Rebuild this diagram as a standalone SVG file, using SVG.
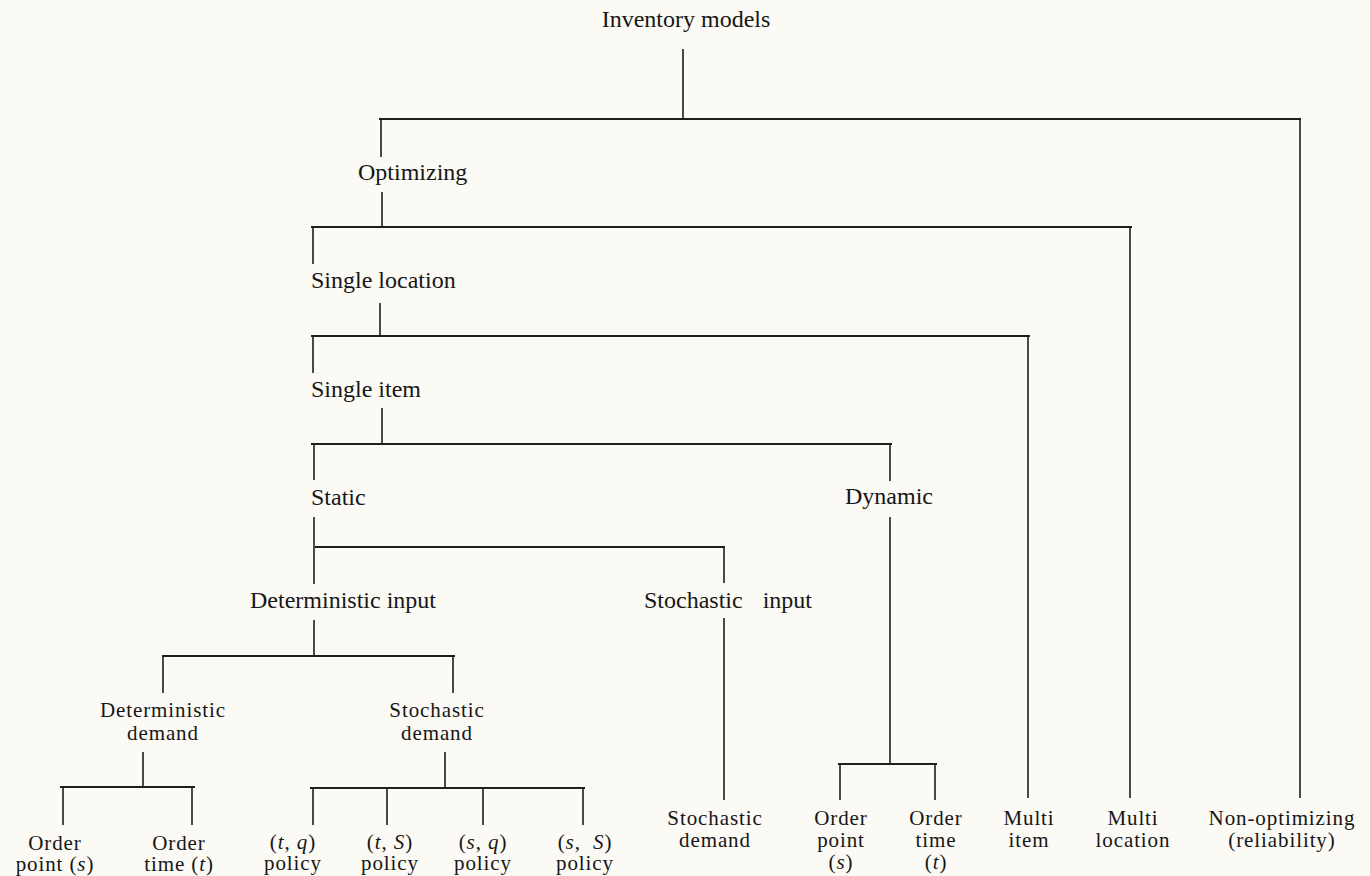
<svg xmlns="http://www.w3.org/2000/svg" width="1370" height="876" viewBox="0 0 1370 876">
  <style>
    text { font-family: "Liberation Serif", "Times New Roman", serif; font-size: 24px; fill: #161616; text-anchor: middle; }
    text.start { text-anchor: start; }
    .leaf text { font-size: 21px; letter-spacing: 0.9px; }
    .i { font-style: italic; }
    .h { stroke: #1e1e1e; stroke-width: 2.2; fill: none; }
    .v { stroke: #1e1e1e; stroke-width: 1.6; fill: none; }
  </style>
  <rect x="0" y="0" width="1370" height="876" fill="#fbfaf5"/>

  <!-- tree connectors: horizontal bars and vertical drops -->
  <g id="connectors">
    <line class="h" x1="379" y1="119" x2="1301" y2="119"/>
    <line class="h" x1="311" y1="227" x2="1132" y2="227"/>
    <line class="h" x1="311" y1="336" x2="1030" y2="336"/>
    <line class="h" x1="311" y1="444" x2="892" y2="444"/>
    <line class="h" x1="315" y1="547" x2="725" y2="547"/>
    <line class="h" x1="162" y1="656" x2="455" y2="656"/>
    <line class="h" x1="60" y1="787" x2="195" y2="787"/>
    <line class="h" x1="310" y1="788" x2="585" y2="788"/>
    <line class="h" x1="838" y1="764" x2="937" y2="764"/>

    <line class="v" x1="683" y1="49" x2="683" y2="119"/>
    <line class="v" x1="381" y1="119" x2="381" y2="157"/>
    <line class="v" x1="1300" y1="119" x2="1300" y2="798"/>
    <line class="v" x1="382" y1="192" x2="382" y2="227"/>
    <line class="v" x1="313" y1="227" x2="313" y2="264"/>
    <line class="v" x1="1130" y1="227" x2="1130" y2="798"/>
    <line class="v" x1="380" y1="303" x2="380" y2="336"/>
    <line class="v" x1="313" y1="336" x2="313" y2="373"/>
    <line class="v" x1="1028" y1="336" x2="1028" y2="798"/>
    <line class="v" x1="382" y1="408" x2="382" y2="444"/>
    <line class="v" x1="314" y1="444" x2="314" y2="480"/>
    <line class="v" x1="890" y1="444" x2="890" y2="481"/>
    <line class="v" x1="314" y1="517" x2="314" y2="584"/>
    <line class="v" x1="724" y1="547" x2="724" y2="583"/>
    <line class="v" x1="314" y1="620" x2="314" y2="656"/>
    <line class="v" x1="163" y1="656" x2="163" y2="693"/>
    <line class="v" x1="453" y1="656" x2="453" y2="693"/>
    <line class="v" x1="724" y1="618" x2="724" y2="800"/>
    <line class="v" x1="890" y1="517" x2="890" y2="764"/>
    <line class="v" x1="143" y1="752" x2="143" y2="787"/>
    <line class="v" x1="63" y1="787" x2="63" y2="825"/>
    <line class="v" x1="192" y1="787" x2="192" y2="825"/>
    <line class="v" x1="445" y1="752" x2="445" y2="788"/>
    <line class="v" x1="313" y1="788" x2="313" y2="825"/>
    <line class="v" x1="387" y1="788" x2="387" y2="825"/>
    <line class="v" x1="483" y1="788" x2="483" y2="825"/>
    <line class="v" x1="583" y1="788" x2="583" y2="825"/>
    <line class="v" x1="840" y1="764" x2="840" y2="800"/>
    <line class="v" x1="935" y1="764" x2="935" y2="800"/>
  </g>

  <g id="inventory-models"><text x="686" y="27">Inventory models</text></g>
  <g id="optimizing"><text class="start" x="358" y="180">Optimizing</text></g>
  <g id="single-location"><text class="start" x="311" y="288">Single location</text></g>
  <g id="single-item"><text class="start" x="311" y="397">Single item</text></g>
  <g id="static"><text class="start" x="311" y="505">Static</text></g>
  <g id="dynamic"><text class="start" x="845" y="504">Dynamic</text></g>
  <g id="deterministic-input"><text class="start" x="250" y="608">Deterministic input</text></g>
  <g id="stochastic-input"><text class="start" x="644" y="608" style="word-spacing:14px">Stochastic input</text></g>

  <g class="leaf">
    <g id="deterministic-demand">
      <text x="163" y="717">Deterministic</text>
      <text x="163" y="740">demand</text>
    </g>
    <g id="stochastic-demand">
      <text x="437" y="717">Stochastic</text>
      <text x="437" y="740">demand</text>
    </g>

    <g id="order-point-s">
      <text x="55" y="850">Order</text>
      <text x="55" y="871">point (<tspan class="i">s</tspan>)</text>
    </g>
    <g id="order-time-t">
      <text x="179" y="850">Order</text>
      <text x="179" y="871">time (<tspan class="i">t</tspan>)</text>
    </g>
    <g id="policy-tq">
      <text x="293" y="849">(<tspan class="i">t</tspan>, <tspan class="i">q</tspan>)</text>
      <text x="293" y="870">policy</text>
    </g>
    <g id="policy-tS">
      <text x="390" y="849">(<tspan class="i">t</tspan>, <tspan class="i">S</tspan>)</text>
      <text x="390" y="870">policy</text>
    </g>
    <g id="policy-sq">
      <text x="483" y="849">(<tspan class="i">s</tspan>, <tspan class="i">q</tspan>)</text>
      <text x="483" y="870">policy</text>
    </g>
    <g id="policy-sS">
      <text x="585" y="849" style="word-spacing:6px">(<tspan class="i">s</tspan>, <tspan class="i">S</tspan>)</text>
      <text x="585" y="870">policy</text>
    </g>

    <g id="stochastic-demand-static">
      <text x="715" y="825">Stochastic</text>
      <text x="715" y="847">demand</text>
    </g>
    <g id="dynamic-order-point">
      <text x="841" y="825">Order</text>
      <text x="841" y="847">point</text>
      <text x="841" y="869">(<tspan class="i">s</tspan>)</text>
    </g>
    <g id="dynamic-order-time">
      <text x="936" y="825">Order</text>
      <text x="936" y="847">time</text>
      <text x="936" y="869">(<tspan class="i">t</tspan>)</text>
    </g>
    <g id="multi-item">
      <text x="1029" y="825">Multi</text>
      <text x="1029" y="847">item</text>
    </g>
    <g id="multi-location">
      <text x="1133" y="825">Multi</text>
      <text x="1133" y="847">location</text>
    </g>
    <g id="non-optimizing">
      <text x="1282" y="825">Non-optimizing</text>
      <text x="1282" y="847">(reliability)</text>
    </g>
  </g>
</svg>
